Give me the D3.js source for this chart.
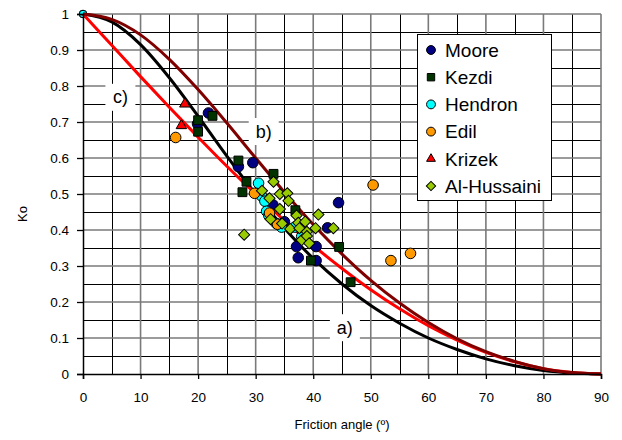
<!DOCTYPE html>
<html>
<head>
<meta charset="utf-8">
<script src="https://cdn.jsdelivr.net/npm/d3@7"></script>
<style>
  body { margin: 0; background: #fff; }
  svg text { font-family: "Liberation Sans", Arial, sans-serif; fill: #000; }
</style>
</head>
<body>
<svg id="ko_chart"></svg>
<script>
// curves read at 5 degree steps
var angles = [0, 5, 10, 15, 20, 25, 30, 35, 40, 45, 50, 55, 60, 65, 70, 75, 80, 85, 90];
var curveA = [1, 0.978, 0.915, 0.823, 0.716, 0.605, 0.5, 0.405, 0.321, 0.25, 0.19, 0.141, 0.1, 0.068, 0.042, 0.023, 0.01, 0.003, 0];
var curveB = [1, 0.985, 0.942, 0.874, 0.79, 0.697, 0.6, 0.505, 0.415, 0.333, 0.26, 0.197, 0.143, 0.098, 0.062, 0.035, 0.015, 0.004, 0];
var curveC = [1, 0.913, 0.826, 0.741, 0.658, 0.577, 0.5, 0.426, 0.357, 0.293, 0.234, 0.181, 0.134, 0.094, 0.06, 0.034, 0.015, 0.004, 0];

var moore = [
    {angle: 0, ko: 1}, {angle: 21.8, ko: 0.725}, {angle: 19.9, ko: 0.695},
    {angle: 27.0, ko: 0.576}, {angle: 29.5, ko: 0.587}, {angle: 44.4, ko: 0.476},
    {angle: 42.5, ko: 0.406}, {angle: 37.1, ko: 0.354}, {angle: 40.5, ko: 0.354},
    {angle: 37.4, ko: 0.323}, {angle: 40.5, ko: 0.315}, {angle: 33.0, ko: 0.47},
    {angle: 35.0, ko: 0.423}
];
var kezdi = [
    {angle: 20.0, ko: 0.705}, {angle: 20.0, ko: 0.673}, {angle: 22.5, ko: 0.717},
    {angle: 27.0, ko: 0.593}, {angle: 28.4, ko: 0.534}, {angle: 27.7, ko: 0.505},
    {angle: 33.1, ko: 0.556}, {angle: 36.9, ko: 0.455}, {angle: 44.5, ko: 0.353},
    {angle: 39.6, ko: 0.315}, {angle: 46.5, ko: 0.255}
];
var hendron = [
    {angle: 0, ko: 1}, {angle: 30.5, ko: 0.53}, {angle: 31.0, ko: 0.495},
    {angle: 31.6, ko: 0.48}, {angle: 31.9, ko: 0.452}, {angle: 32.3, ko: 0.44},
    {angle: 33.6, ko: 0.418}, {angle: 34.5, ko: 0.408}, {angle: 36.8, ko: 0.408},
    {angle: 38.0, ko: 0.382}
];
var edil = [
    {angle: 16.1, ko: 0.657}, {angle: 29.8, ko: 0.502}, {angle: 32.4, ko: 0.447},
    {angle: 33.8, ko: 0.416}, {angle: 50.4, ko: 0.525}, {angle: 56.9, ko: 0.335},
    {angle: 53.5, ko: 0.315}
];
var krizek = [
    {angle: 17.7, ko: 0.75}, {angle: 17.1, ko: 0.69}
];
var alHussaini = [
    {angle: 28.0, ko: 0.387}, {angle: 31.1, ko: 0.509}, {angle: 32.4, ko: 0.488},
    {angle: 32.6, ko: 0.43}, {angle: 33.1, ko: 0.534}, {angle: 34.2, ko: 0.5},
    {angle: 34.2, ko: 0.458}, {angle: 34.6, ko: 0.418}, {angle: 35.5, ko: 0.502},
    {angle: 35.7, ko: 0.481}, {angle: 36.0, ko: 0.403}, {angle: 37.1, ko: 0.44},
    {angle: 37.4, ko: 0.42}, {angle: 37.6, ko: 0.405}, {angle: 38.0, ko: 0.372},
    {angle: 38.6, ko: 0.423}, {angle: 38.9, ko: 0.395}, {angle: 38.9, ko: 0.383},
    {angle: 39.3, ko: 0.363}, {angle: 40.4, ko: 0.405}, {angle: 40.9, ko: 0.443},
    {angle: 43.5, ko: 0.405}
];

var seriesNames = ["Moore", "Kezdi", "Hendron", "Edil", "Krizek", "Al-Hussaini"];
var curveLabels = ["a)", "b)", "c)"];
var xTicks = [0, 10, 20, 30, 40, 50, 60, 70, 80, 90];
var yTicks = [0, 0.1, 0.2, 0.3, 0.4, 0.5, 0.6, 0.7, 0.8, 0.9, 1];

var width = 622;
var height = 440;
var plotLeft = 83, plotRight = 601, plotTop = 14, plotBottom = 374;

var xScale = d3.scaleLinear()
    .domain([0, 90])
    .range([plotLeft, plotRight]);
var yScale = d3.scaleLinear()
    .domain([0, 1])
    .range([plotBottom, plotTop]);

var svg = d3.select("#ko_chart")
    .attr('width', width)
    .attr('height', height);

var styles = {
    "Moore":       {fill: '#000080', shape: 'circle'},
    "Kezdi":       {fill: '#003300', shape: 'square'},
    "Hendron":     {fill: '#00ffff', shape: 'circle'},
    "Edil":        {fill: '#ff9900', shape: 'circle'},
    "Krizek":      {fill: '#ff0000', shape: 'triangle'},
    "Al-Hussaini": {fill: '#99cc00', shape: 'diamond'}
};
var dataBySeries = {
    "Moore": moore, "Kezdi": kezdi, "Hendron": hendron,
    "Edil": edil, "Krizek": krizek, "Al-Hussaini": alHussaini
};

function symbolPath(shape, scale) {
    if (shape === 'circle') return d3.symbol().type(d3.symbolCircle).size(88 * scale)();
    if (shape === 'square') return d3.symbol().type(d3.symbolSquare).size(78 * scale)();
    if (shape === 'triangle') return d3.symbol().type(d3.symbolTriangle).size(48 * scale)();
    return d3.symbol().type(d3.symbolSquare).size(62 * scale)();
}

function draw_grid() {
    var g = svg.append('g');
    var minorX = d3.range(5, 90, 10);
    var majorX = d3.range(10, 91, 10);
    var minorY = d3.range(0.05, 1, 0.1);
    var majorY = d3.range(0.1, 1.01, 0.1);

    g.selectAll('.minx').data(minorX).enter().append('line')
        .attr('x1', d => Math.round(xScale(d)) + 0.5).attr('x2', d => Math.round(xScale(d)) + 0.5)
        .attr('y1', plotTop).attr('y2', plotBottom)
        .attr('stroke', '#000').attr('stroke-width', 1);
    g.selectAll('.miny').data(minorY).enter().append('line')
        .attr('y1', d => Math.round(yScale(d)) + 0.5).attr('y2', d => Math.round(yScale(d)) + 0.5)
        .attr('x1', plotLeft).attr('x2', plotRight)
        .attr('stroke', '#000').attr('stroke-width', 1);
    g.selectAll('.majx').data(majorX).enter().append('line')
        .attr('x1', d => xScale(d)).attr('x2', d => xScale(d))
        .attr('y1', plotTop).attr('y2', plotBottom)
        .attr('stroke', '#7a7a7a').attr('stroke-width', 1.6);
    g.selectAll('.majy').data(majorY).enter().append('line')
        .attr('y1', d => yScale(d)).attr('y2', d => yScale(d))
        .attr('x1', plotLeft).attr('x2', plotRight)
        .attr('stroke', '#7a7a7a').attr('stroke-width', 1.6);
}

function draw_axis() {
    var xAxis = d3.axisBottom(xScale)
        .tickValues(xTicks)
        .tickSize(5)
        .tickPadding(13)
        .tickFormat(d3.format('d'));
    var yAxis = d3.axisLeft(yScale)
        .tickValues(yTicks)
        .tickSize(6)
        .tickPadding(8)
        .tickFormat(d => d === 0 || d === 1 ? d3.format('d')(d) : d3.format('.1f')(d));

    var gx = svg.append('g')
        .attr('transform', 'translate(0,' + plotBottom + ')')
        .call(xAxis);
    var gy = svg.append('g')
        .attr('transform', 'translate(' + plotLeft + ',0)')
        .call(yAxis);
    [gx, gy].forEach(function (g) {
        g.select('.domain').attr('stroke', '#000').attr('stroke-width', 1.5);
        g.selectAll('.tick line').attr('stroke', '#000').attr('stroke-width', 1.3);
        g.selectAll('.tick text')
            .attr('font-size', '13.5px')
            .attr('font-family', '"Liberation Sans", Arial, sans-serif');
    });

    svg.append('text')
        .attr('x', (plotLeft + plotRight) / 2)
        .attr('y', 429)
        .attr('text-anchor', 'middle')
        .attr('font-size', '13px')
        .text('Friction angle (º)');
    svg.append('text')
        .attr('transform', 'translate(27,214) rotate(-90)')
        .attr('text-anchor', 'middle')
        .attr('font-size', '13px')
        .text('Ko');
}

function draw_curves() {
    var curves = [
        {values: curveA, color: '#000000'},
        {values: curveC, color: '#ff0000'},
        {values: curveB, color: '#800000'}
    ];
    var linePath = d3.line()
        .x(function (d, i) { return xScale(angles[i]); })
        .y(function (d) { return yScale(d); })
        .curve(d3.curveMonotoneX);
    svg.append('g')
        .selectAll('path')
        .data(curves)
        .enter()
        .append('path')
        .attr('d', d => linePath(d.values))
        .attr('fill', 'none')
        .attr('stroke', d => d.color)
        .attr('stroke-width', 3);
}

function draw_labels() {
    // boxes with the curve names, placed along the curves
    var spots = [
        {text: curveLabels[0], angle: 45.5, ko: 0.13},
        {text: curveLabels[1], angle: 31.4, ko: 0.675},
        {text: curveLabels[2], angle: 6.5, ko: 0.77}
    ];
    var g = svg.append('g');
    spots.forEach(function (s) {
        g.append('rect')
            .attr('x', xScale(s.angle) - 15)
            .attr('y', yScale(s.ko) - 13)
            .attr('width', 30)
            .attr('height', 27)
            .attr('fill', '#fff');
        g.append('text')
            .attr('x', xScale(s.angle))
            .attr('y', yScale(s.ko) + 6.5)
            .attr('text-anchor', 'middle')
            .attr('font-size', '18px')
            .text(s.text);
    });
}

// corner points (Ko = 1) sit under the curves, the rest on top
function draw_points(underCurves) {
    seriesNames.forEach(function (name) {
        var st = styles[name];
        var pts = dataBySeries[name].filter(d => underCurves ? d.ko >= 1 : d.ko < 1);
        svg.append('g')
            .selectAll('path')
            .data(pts)
            .enter()
            .append('path')
            .attr('d', symbolPath(st.shape, underCurves ? 0.5 : 1))
            .attr('transform', function (d) {
                var t = 'translate(' + xScale(d.angle) + ',' + yScale(d.ko) + ')';
                return st.shape === 'diamond' ? t + ' rotate(45)' : t;
            })
            .attr('fill', st.fill)
            .attr('stroke', '#000')
            .attr('stroke-width', 1);
    });
}

function draw_legend() {
    var g = svg.append('g');
    g.append('rect')
        .attr('x', 417.5).attr('y', 34.5)
        .attr('width', 134).attr('height', 166)
        .attr('fill', '#fff')
        .attr('stroke', '#000')
        .attr('stroke-width', 1);
    seriesNames.forEach(function (name, i) {
        var st = styles[name];
        var cy = 50 + i * 27.2;
        g.append('path')
            .attr('d', symbolPath(st.shape, 0.7))
            .attr('transform', 'translate(431,' + cy + ')' + (st.shape === 'diamond' ? ' rotate(45)' : ''))
            .attr('fill', st.fill)
            .attr('stroke', '#000')
            .attr('stroke-width', 1);
        g.append('text')
            .attr('x', 445)
            .attr('y', cy + 6.8)
            .attr('font-size', '19px')
            .text(name);
    });
}

draw_grid();
draw_points(true);
draw_curves();
draw_labels();
draw_points(false);
draw_axis();
draw_legend();
</script>
</body>
</html>
